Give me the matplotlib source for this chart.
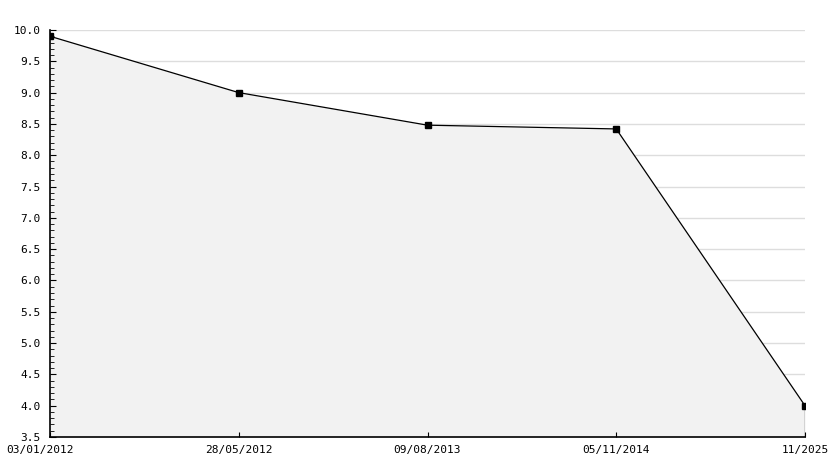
import numpy as np
import matplotlib.pyplot as plt
from matplotlib.ticker import MultipleLocator
from matplotlib.transforms import ScaledTranslation

dates = ['03/01/2012', '28/05/2012', '09/08/2013', '05/11/2014', '11/2025']
values = [9.9, 9.0, 8.48, 8.42, 4.0]

plt.rcParams['font.family'] = 'DejaVu Sans Mono'

fig = plt.figure(figsize=(8.34, 4.68), dpi=100)
ax = fig.add_axes([50/834, 1-437/468, 755/834, 407/468])

x = np.arange(len(dates))
ax.set_xlim(0, len(dates) - 1)
ax.set_ylim(3.5, 10.0)
ax.yaxis.set_major_locator(MultipleLocator(0.5))
ax.yaxis.set_minor_locator(MultipleLocator(0.1))
ax.yaxis.set_major_formatter(lambda v, p: '%.1f' % v)

# grid sits under the grey fill, ticks stay on top
for v in ax.get_yticks():
    ax.axhline(v, color='#dddddd', lw=1, zorder=0)

ax.fill_between(x, values, 3.5, color='#f2f2f2', lw=0, zorder=1)
ax.plot([x[-1], x[-1]], [3.5, values[-1]], color='black', lw=0.9, zorder=3)
ax.plot(x, values, color='black', lw=0.9, marker='s', ms=4, zorder=4)

ax.set_xticks(x)
ax.set_xticklabels(dates)
ax.tick_params(axis='both', direction='in', labelsize=8, color='black')
ax.tick_params(axis='y', which='major', length=4.5, pad=7)
ax.tick_params(axis='y', which='minor', length=3, direction='in')
ax.tick_params(axis='x', length=3.5, pad=5.5)

# first x label sits a bit left of its tick, like the original
labs = ax.get_xticklabels()
labs[0].set_transform(labs[0].get_transform() + ScaledTranslation(-0.10, 0, fig.dpi_scale_trans))

for s in ['top', 'right']:
    ax.spines[s].set_visible(False)
for s in ['left', 'bottom']:
    ax.spines[s].set_linewidth(1.2)
    ax.spines[s].set_zorder(5)

fig.savefig('out.png', dpi=100)
